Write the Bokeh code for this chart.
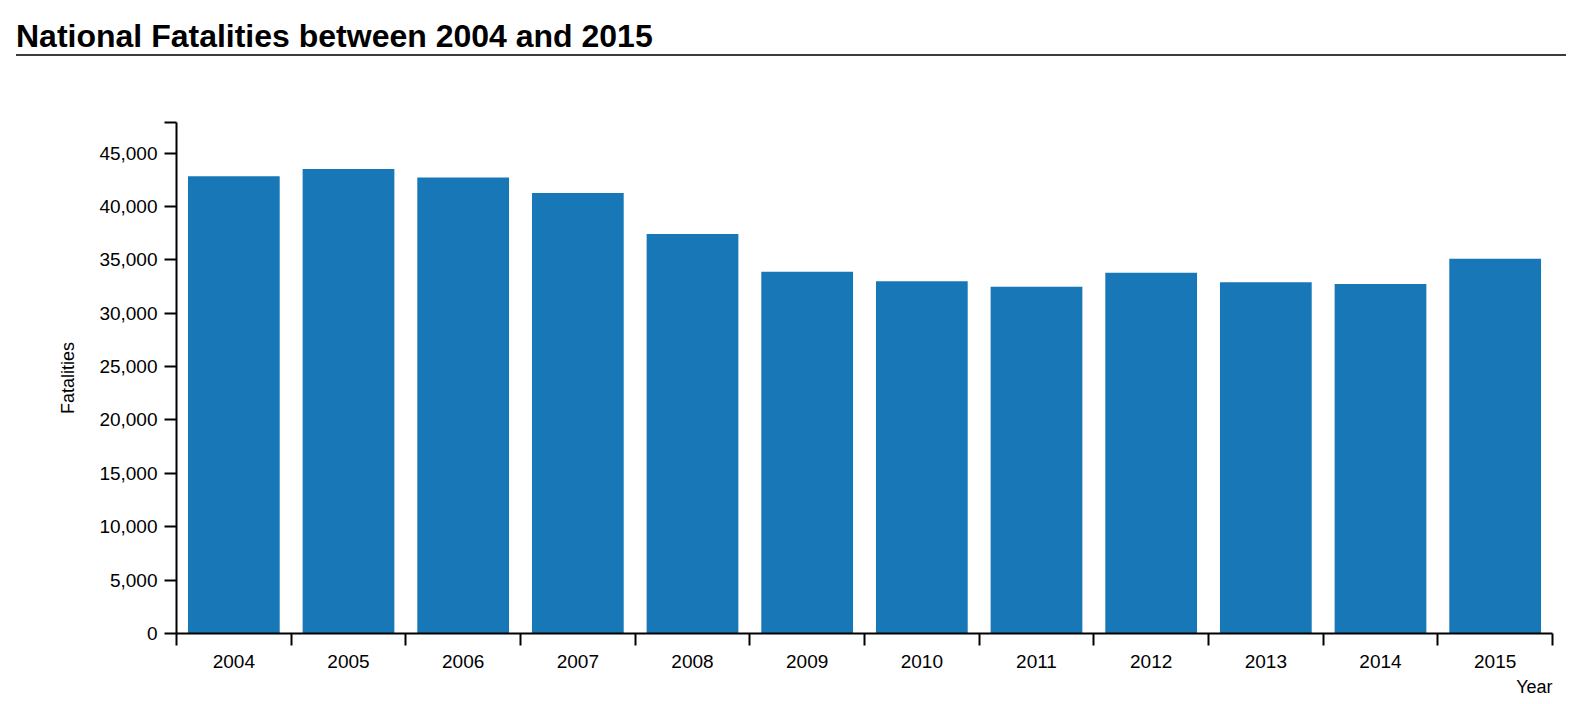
from bokeh.plotting import figure
from bokeh.models import (Range1d, FixedTicker, CustomJSTickFormatter, NumeralTickFormatter,
                          Title, Div, ColumnDataSource)
from bokeh.layouts import column
from bokeh.embed import file_html
from bokeh.resources import INLINE

years = ["2004", "2005", "2006", "2007", "2008", "2009", "2010", "2011", "2012", "2013", "2014", "2015"]
fatalities = [42836, 43510, 42708, 41259, 37423, 33883, 32999, 32479, 33782, 32893, 32744, 35092]
y_ticks = [0, 5000, 10000, 15000, 20000, 25000, 30000, 35000, 40000, 45000]

FONT = "Liberation Sans"
y_max = max(fatalities) * 1.1

src = ColumnDataSource(dict(x=[i + 0.5 for i in range(len(years))], top=fatalities, year=years))

title_div = Div(
    text=('<div style="box-sizing:border-box;font-family:\'Liberation Sans\';font-weight:bold;'
          'font-size:32px;line-height:36px;height:56px;color:#000;padding-top:18px;'
          'margin-left:16px;width:1550px;border-bottom:2px solid #3c3c3c;white-space:nowrap;">'
          'National Fatalities between 2004 and 2015</div>'),
    width=1566, height=56, margin=(0, 0, 0, 0))

p = figure(width=1566, height=648, output_backend="svg", toolbar_location=None,
           x_range=Range1d(0, len(years)), y_range=Range1d(0, y_max),
           min_border_left=176, min_border_right=14, min_border_top=66, min_border_bottom=71,
           margin=(0, 0, 0, 0))
p.outline_line_color = None
p.xgrid.visible = False
p.ygrid.visible = False

p.vbar(x="x", top="top", width=0.8, source=src, fill_color="#1877b6", line_color=None)

# x axis
xa = p.xaxis[0]
xa.ticker = FixedTicker(ticks=[i + 0.5 for i in range(len(years))],
                        minor_ticks=list(range(len(years) + 1)))
xa.formatter = CustomJSTickFormatter(args=dict(years=years),
                                     code="return years[Math.floor(tick)];")
xa.major_tick_out = 0
xa.major_tick_in = 0
xa.minor_tick_out = 12
xa.minor_tick_in = 0
xa.minor_tick_line_width = 2
xa.minor_tick_line_color = "black"
xa.axis_line_width = 2
xa.axis_line_color = "black"
xa.major_label_text_font = FONT
xa.major_label_text_font_size = "19px"
xa.major_label_text_color = "black"
xa.major_label_standoff = 9

# y axis
ya = p.yaxis[0]
ya.ticker = FixedTicker(ticks=y_ticks, minor_ticks=[y_max])
ya.formatter = NumeralTickFormatter(format="0,0")
ya.major_tick_out = 12
ya.major_tick_in = 0
ya.major_tick_line_width = 2
ya.major_tick_line_color = "black"
ya.minor_tick_out = 12
ya.minor_tick_in = 0
ya.minor_tick_line_width = 2
ya.minor_tick_line_color = "black"
ya.axis_line_width = 2
ya.axis_line_color = "black"
ya.major_label_text_font = FONT
ya.major_label_text_font_size = "19px"
ya.major_label_text_color = "black"
ya.major_label_standoff = 7
ya.axis_label = "Fatalities"
ya.axis_label_text_font = FONT
ya.axis_label_text_font_size = "18px"
ya.axis_label_text_font_style = "normal"
ya.axis_label_text_color = "black"
ya.axis_label_standoff = 18

p.add_layout(Title(text="Year", align="right", text_font=FONT, text_font_size="18px",
                   text_font_style="normal", text_color="black", standoff=8), "below")

layout = column(title_div, p, spacing=0)
open("out.html", "w").write(file_html(layout, INLINE))
